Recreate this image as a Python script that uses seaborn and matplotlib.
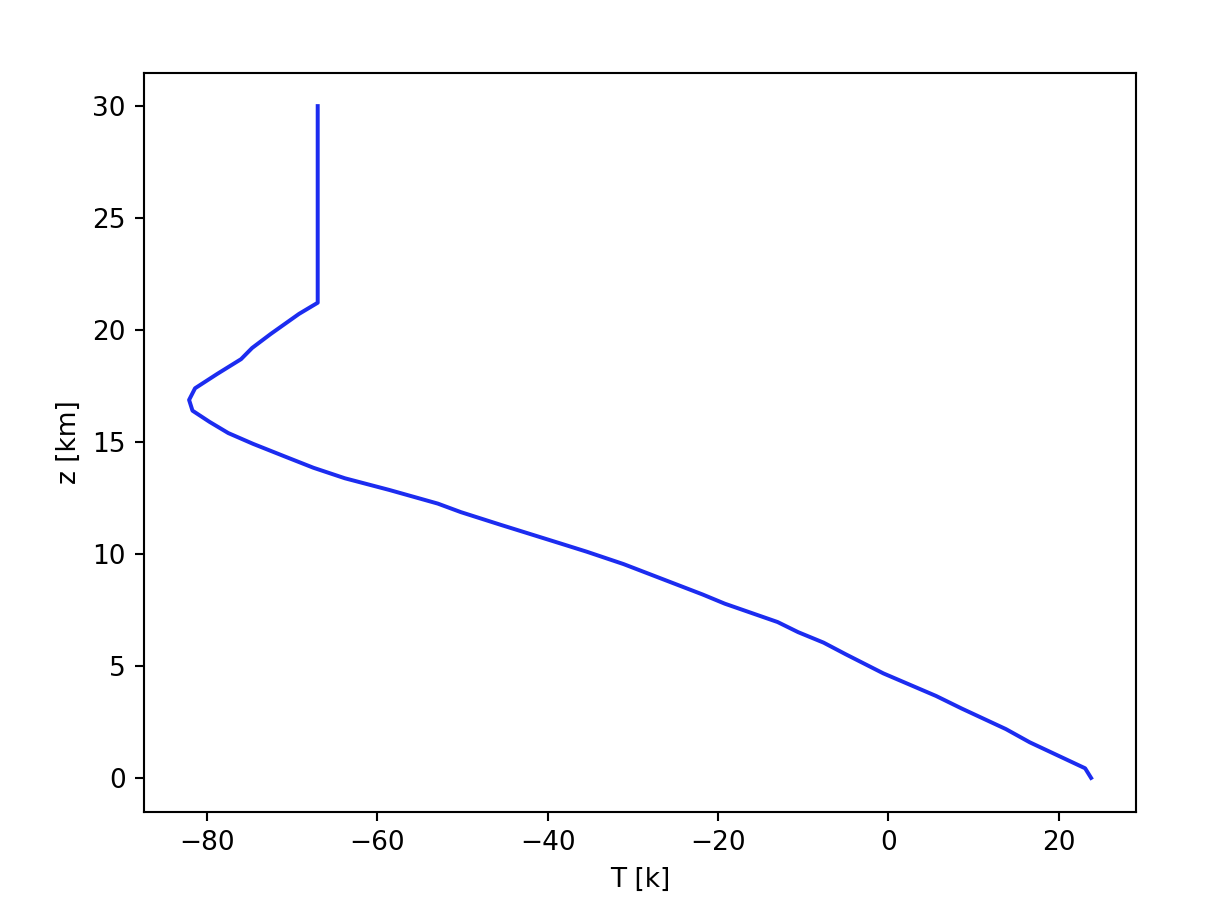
import matplotlib
matplotlib.use("Agg")
import matplotlib.pyplot as plt
import seaborn as sns
import pandas as pd

# Temperature profile (ground to 30 km)
height_km = [0.0, 0.43, 1.59, 2.18, 3.1, 3.66, 4.67, 5.52, 6.04, 6.51, 6.96,
             7.78, 8.19, 9.55, 10.1, 10.47, 11.3, 11.87, 12.25, 12.86,
             13.38, 13.85, 14.36, 14.92, 15.4, 15.9, 16.4, 16.88, 17.4,
             18.04, 18.7, 19.2, 19.83, 20.72, 21.22, 30.0]
temp_c = [23.8, 23.1, 16.6, 13.8, 8.6, 5.6, -0.6, -5.0, -7.6, -10.6, -13.0,
          -19.2, -21.8, -31.1, -35.4, -38.5, -45.5, -50.2, -52.9, -58.6,
          -63.8, -67.5, -70.9, -74.6, -77.5, -79.7, -81.7, -82.1, -81.4,
          -78.8, -76.0, -74.7, -72.5, -69.2, -67.0, -67.0]

df = pd.DataFrame({"T": temp_c, "z": height_km})

fig = plt.figure(figsize=(1210 / 190, 918 / 190), dpi=190)
ax = fig.add_axes([0.119, 0.116, 0.82, 0.805])
sns.lineplot(data=df, x="T", y="z", sort=False, estimator=None,
             color="#1c2cf0", linewidth=1.5, ax=ax)
ax.set_xlabel("T [k]")
ax.set_ylabel("z [km]")

fig.savefig("out.png", dpi=190)
